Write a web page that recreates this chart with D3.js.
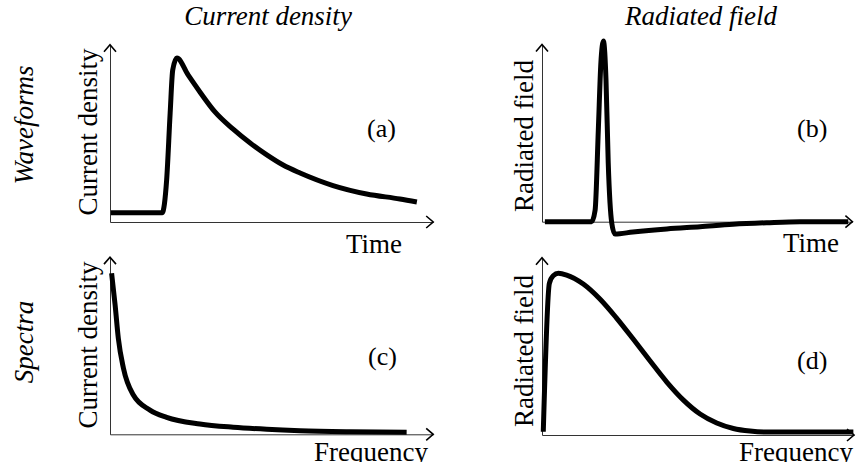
<!DOCTYPE html>
<html>
<head>
<meta charset="utf-8">
<style>
    html, body { margin: 0; padding: 0; background: #fff; }
    svg text { font-family: "Liberation Serif", "Times New Roman", serif; fill: #000; }
    .title { font-style: italic; font-size: 27px; }
    .label { font-size: 27px; }
    .tag { font-size: 26px; }
    .axis path { stroke: #333; stroke-width: 1px; }
    .arrow { fill: none; stroke: #000; stroke-width: 1.6px; }
    .curve { fill: none; stroke: #000; stroke-width: 5px; stroke-linejoin: round; }
</style>
</head>
<body>
<svg width="856" height="470"></svg>
<script src="https://d3js.org/d3.v7.min.js"></script>
<script>
// (a) current density waveform
var waveTime    = [0.03, 1.63, 1.77, 1.88, 1.96, 2.09, 2.44, 2.81, 3.28, 3.84, 4.38, 4.90, 5.41, 5.94, 6.97, 8.02, 9.06, 9.59];
var waveCurrent = [0.054, 0.054, 0.244, 0.634, 0.884, 0.953, 0.855, 0.756, 0.640, 0.541, 0.459, 0.390, 0.331, 0.285, 0.212, 0.163, 0.134, 0.116];

// (b) radiated field waveform
var fieldTime  = [0.09, 1.55, 1.66, 1.76, 1.84, 1.92, 2.00, 2.07, 2.18, 2.28, 2.84, 3.90, 4.94, 5.97, 7.02, 8.06, 9.57];
var fieldValue = [0, 0, 0.068, 0.533, 0.923, 1.05, 0.824, 0.341, -0.008, -0.072, -0.06, -0.042, -0.029, -0.015, -0.006, 0, 0];

// (c) current density spectrum
var specFreq    = [0.05, 0.16, 0.26, 0.42, 0.73, 1.25, 1.77, 2.81, 3.85, 4.90, 5.94, 7.5, 9.27];
var specCurrent = [0.936, 0.752, 0.558, 0.384, 0.228, 0.141, 0.099, 0.060, 0.041, 0.029, 0.021, 0.015, 0.012];

// (d) radiated field spectrum
var fieldFreq = [0.04, 0.23, 0.35, 0.51, 0.77, 1.29, 1.81, 2.33, 2.85, 3.38, 3.90, 4.42, 4.94, 5.46, 5.98, 6.50, 7.02, 9.73];
var fieldSpec = [0.019, 0.882, 0.926, 0.940, 0.930, 0.878, 0.791, 0.680, 0.558, 0.430, 0.308, 0.203, 0.122, 0.070, 0.038, 0.023, 0.017, 0.017];

var colTitles = ["Current density", "Radiated field"];
var rowTitles = ["Waveforms", "Spectra"];

var svg = d3.select("svg");
var pxX = 32, pxY = 172, yMax = 1.03;

var panels = [
    { id: "(a)", xs: waveTime,  ys: waveCurrent, left: 110, bottom: 222,   xMax: 10.1, ylab: "Current density", xlab: "Time",
      ylabPos: [97, 132],  xlabPos: [346, 253], tagPos: [367, 137] },
    { id: "(b)", xs: fieldTime, ys: fieldValue,  left: 542, bottom: 221.7, xMax: 9.7,  ylab: "Radiated field",   xlab: "Time",
      ylabPos: [533, 136], xlabPos: [783, 252], tagPos: [797, 137] },
    { id: "(c)", xs: specFreq,  ys: specCurrent, left: 110, bottom: 434.3, xMax: 10.1, ylab: "Current density", xlab: "Frequency",
      ylabPos: [97, 345],  xlabPos: [428, 461], tagPos: [368, 365], end: true },
    { id: "(d)", xs: fieldFreq, ys: fieldSpec,   left: 542, bottom: 435,   xMax: 9.75, ylab: "Radiated field",   xlab: "Frequency",
      ylabPos: [533, 351], xlabPos: [853, 461], tagPos: [797, 369], end: true }
];

panels.forEach(function (p) {
    var g = svg.append("g");
    var x = d3.scaleLinear().domain([0, p.xMax]).range([p.left, p.left + p.xMax * pxX]);
    var y = d3.scaleLinear().domain([0, yMax]).range([p.bottom, p.bottom - yMax * pxY]);

    g.append("g").attr("class", "axis")
        .attr("transform", "translate(0," + p.bottom + ")")
        .call(d3.axisBottom(x).tickValues([]).tickSizeOuter(0));
    g.append("g").attr("class", "axis")
        .attr("transform", "translate(" + p.left + ",0)")
        .call(d3.axisLeft(y).tickValues([]).tickSizeOuter(0));

    var xe = x.range()[1], yt = y.range()[1];
    g.append("path").attr("class", "arrow")
        .attr("d", "M" + (xe - 7) + "," + (p.bottom - 6) + "L" + xe + "," + p.bottom + "L" + (xe - 7) + "," + (p.bottom + 6));
    g.append("path").attr("class", "arrow")
        .attr("d", "M" + (p.left - 6) + "," + (yt + 7) + "L" + p.left + "," + yt + "L" + (p.left + 6) + "," + (yt + 7));

    var line = d3.line()
        .x(function (d) { return x(d[0]); })
        .y(function (d) { return y(d[1]); })
        .curve(d3.curveMonotoneX);
    g.append("path").attr("class", "curve")
        .attr("d", line(d3.zip(p.xs, p.ys)));

    g.append("text").attr("class", "label")
        .attr("transform", "translate(" + p.ylabPos[0] + "," + p.ylabPos[1] + ") rotate(-90)")
        .attr("text-anchor", "middle")
        .text(p.ylab);
    g.append("text").attr("class", "label")
        .attr("x", p.xlabPos[0]).attr("y", p.xlabPos[1])
        .attr("text-anchor", p.end ? "end" : "start")
        .text(p.xlab);
    g.append("text").attr("class", "tag")
        .attr("x", p.tagPos[0]).attr("y", p.tagPos[1])
        .text(p.id);
});

svg.selectAll(".coltitle")
    .data(colTitles).enter()
    .append("text").attr("class", "title coltitle")
    .attr("x", function (d, i) { return [268, 701][i]; })
    .attr("y", 25)
    .attr("text-anchor", "middle")
    .text(function (d) { return d; });

svg.selectAll(".rowtitle")
    .data(rowTitles).enter()
    .append("text").attr("class", "title rowtitle")
    .attr("transform", function (d, i) { return "translate(33," + [125, 342][i] + ") rotate(-90)"; })
    .attr("text-anchor", "middle")
    .text(function (d) { return d; });

// the source figure is cropped just under the baseline of the bottom labels
svg.append("rect").attr("x", 0).attr("y", 462).attr("width", 856).attr("height", 8).attr("fill", "#fff");
</script>
</body>
</html>
